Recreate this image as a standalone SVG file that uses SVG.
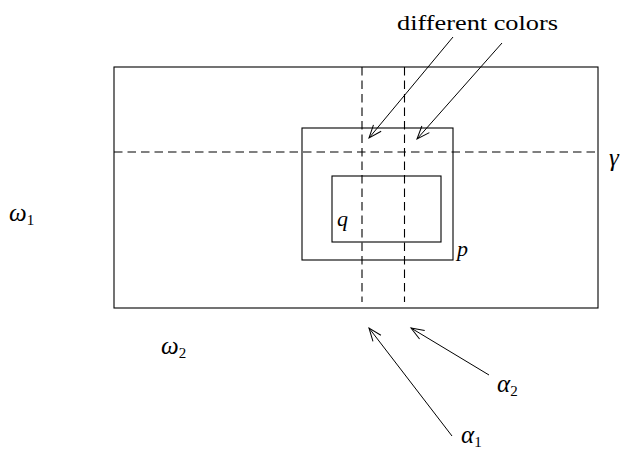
<svg xmlns="http://www.w3.org/2000/svg" width="620" height="451" viewBox="0 0 620 451">
<style>
.s{fill:none;stroke:#000;stroke-width:1.1}
.d{fill:none;stroke:#000;stroke-width:1.1;stroke-dasharray:8.5,5}
.a{fill:none;stroke:#000;stroke-width:1;marker-end:url(#ah)}
.t{font-family:'Liberation Serif','DejaVu Serif',serif;font-size:22px;fill:#000}
.m{font-family:'Liberation Serif','DejaVu Serif',serif;font-style:italic;font-size:22px;fill:#000}
.g{font-family:'Liberation Serif','DejaVu Serif',serif;font-style:italic;font-size:25px;fill:#000}
.sub{font-family:'Liberation Serif','DejaVu Serif',serif;font-style:normal;font-size:15px;fill:#000}
</style>
<defs>
<marker id="ah" markerWidth="16" markerHeight="12" refX="14" refY="6" orient="auto" markerUnits="userSpaceOnUse">
<path d="M1,1 L14,6 L1,11" fill="none" stroke="#000" stroke-width="1"/>
</marker>
</defs>
<g id="outer"><rect class="s" x="114" y="67" width="484" height="241"/></g>
<g id="p"><rect class="s" x="302" y="128" width="151" height="132"/><text class="m" x="457" y="256">p</text></g>
<g id="q"><rect class="s" x="332" y="176" width="109" height="66"/><text class="m" x="337" y="226">q</text></g>
<g id="dashes">
<line class="d" x1="114" y1="152" x2="598" y2="152"/>
<line class="d" x1="362" y1="67" x2="362" y2="302"/>
<line class="d" x1="404.5" y1="67" x2="404.5" y2="302"/>
</g>
<g id="connectors">
<line class="a" x1="453" y1="37" x2="369" y2="138"/>
<line class="a" x1="502" y1="43" x2="417" y2="139"/>
<line class="a" x1="452" y1="436" x2="369" y2="328"/>
<line class="a" x1="489" y1="375" x2="411" y2="328"/>
</g>
<g id="labels">
<text class="t" x="397" y="30" textLength="161" lengthAdjust="spacingAndGlyphs">different colors</text>
<text class="g" x="609" y="166">γ</text>
<text class="g" x="9" y="221">ω<tspan class="sub" dy="4">1</tspan></text>
<text class="g" x="161" y="354">ω<tspan class="sub" dy="4">2</tspan></text>
<text class="g" x="497" y="392">α<tspan class="sub" dy="4">2</tspan></text>
<text class="g" x="461" y="443">α<tspan class="sub" dy="4">1</tspan></text>
</g>
</svg>
